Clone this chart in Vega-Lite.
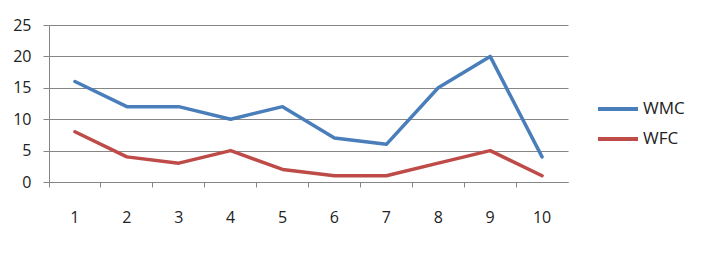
{
  "$schema": "https://vega.github.io/schema/vega-lite/v6.json",
  "width": 519,
  "height": 157,
  "autosize": {"type": "none"},
  "padding": {"left": 49, "top": 25, "right": 145, "bottom": 84},
  "background": "white",
  "config": {
    "view": {"stroke": null},
    "font": "Open Sans",
    "axis": {"labelFont": "Open Sans", "labelColor": "#222222", "labelFontSize": 16, "domainColor": "#868686", "tickColor": "#868686", "gridColor": "#868686", "gridWidth": 1, "domainWidth": 1}
  },
  "data": {
    "values": [
      {"x": "1", "series": "WMC", "v": 16}, {"x": "2", "series": "WMC", "v": 12}, {"x": "3", "series": "WMC", "v": 12}, {"x": "4", "series": "WMC", "v": 10}, {"x": "5", "series": "WMC", "v": 12},
      {"x": "6", "series": "WMC", "v": 7}, {"x": "7", "series": "WMC", "v": 6}, {"x": "8", "series": "WMC", "v": 15}, {"x": "9", "series": "WMC", "v": 20}, {"x": "10", "series": "WMC", "v": 4},
      {"x": "1", "series": "WFC", "v": 8}, {"x": "2", "series": "WFC", "v": 4}, {"x": "3", "series": "WFC", "v": 3}, {"x": "4", "series": "WFC", "v": 5}, {"x": "5", "series": "WFC", "v": 2},
      {"x": "6", "series": "WFC", "v": 1}, {"x": "7", "series": "WFC", "v": 1}, {"x": "8", "series": "WFC", "v": 3}, {"x": "9", "series": "WFC", "v": 5}, {"x": "10", "series": "WFC", "v": 1}
    ]
  },
  "mark": {"type": "line", "strokeWidth": 3.5, "strokeJoin": "round", "strokeCap": "round"},
  "encoding": {
    "x": {
      "field": "x", "type": "ordinal", "sort": null,
      "scale": {"type": "band", "paddingInner": 0, "paddingOuter": 0},
      "axis": {"title": null, "labelAngle": 0, "bandPosition": 0, "labelOffset": 0, "tickSize": 5, "labelPadding": 22, "grid": false}
    },
    "y": {
      "field": "v", "type": "quantitative",
      "scale": {"domain": [0, 25], "nice": false},
      "axis": {"title": null, "values": [0, 5, 10, 15, 20, 25], "tickSize": 6, "labelPadding": 12, "grid": true}
    },
    "color": {
      "field": "series", "type": "nominal", "sort": ["WMC", "WFC"],
      "scale": {"domain": ["WMC", "WFC"], "range": ["#4a7ebb", "#be4b48"]},
      "legend": {
        "title": null, "orient": "none", "legendX": 547, "legendY": 62,
        "symbolType": "stroke", "symbolSize": 1600, "symbolStrokeWidth": 4,
        "labelFontSize": 17, "labelFont": "Open Sans", "labelColor": "#222222", "labelOffset": 3, "rowPadding": -4
      }
    }
  }
}
